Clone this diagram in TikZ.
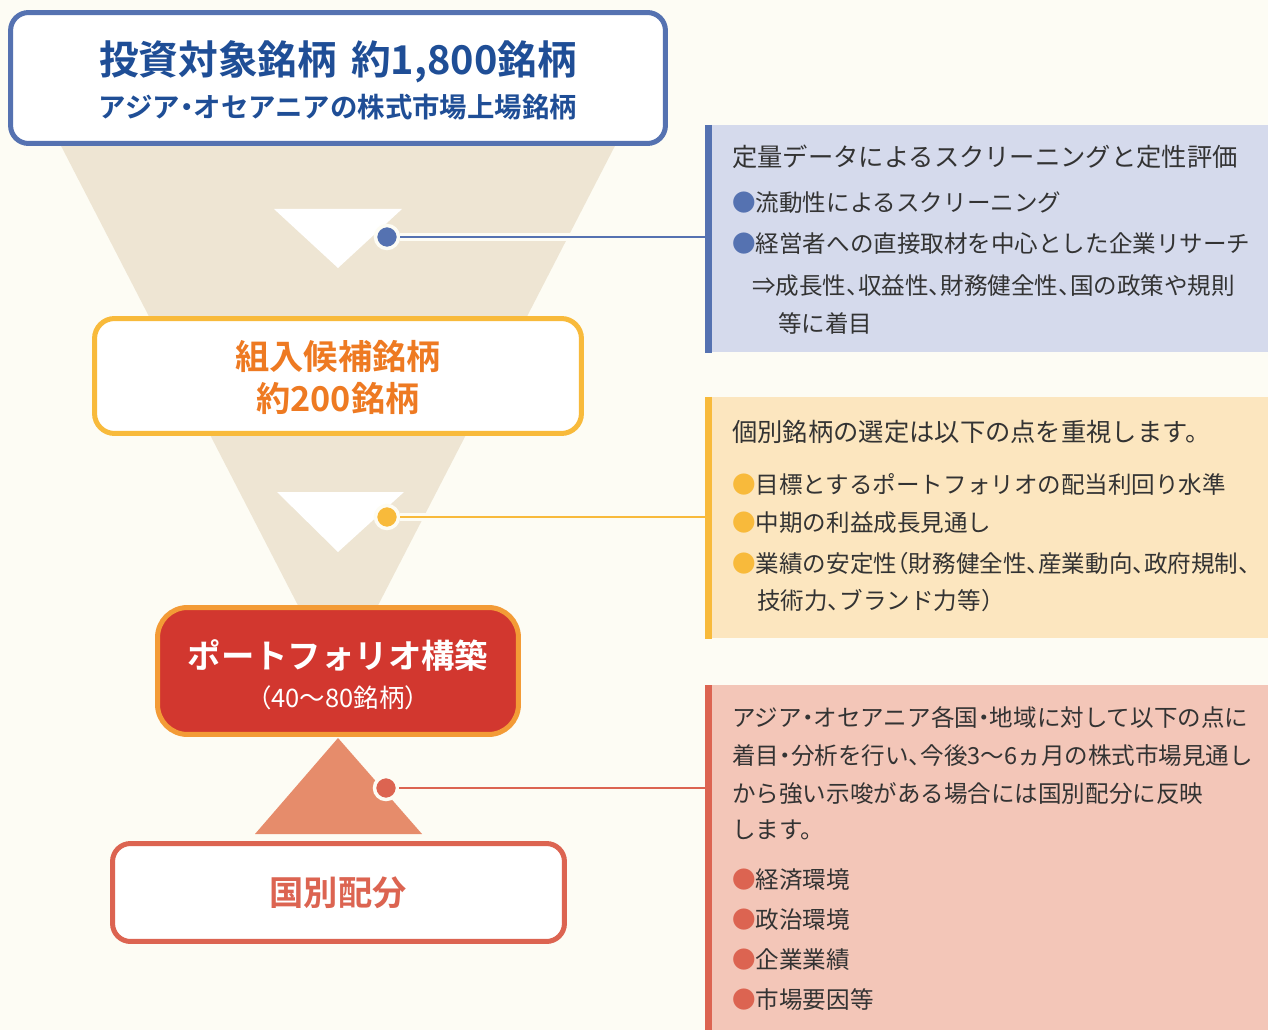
\documentclass[tikz,border=0pt]{standalone}
\usepackage{fontspec}
\setmainfont{Noto Sans CJK JP}[BoldFont={* Bold},RawFeature=+halt]
\usetikzlibrary{calc}

\definecolor{bgcream}{HTML}{FDFCF4}
\definecolor{funnel}{HTML}{EEE5D3}
\definecolor{topblue}{HTML}{5572B1}
\definecolor{titleblue}{HTML}{1F4E96}
\definecolor{candyellow}{HTML}{F8BA3B}
\definecolor{candorange}{HTML}{EE7A22}
\definecolor{portred}{HTML}{D2372F}
\definecolor{portorange}{HTML}{F39B36}
\definecolor{countryred}{HTML}{DC6451}
\definecolor{tripeach}{HTML}{E68C6B}
\definecolor{panelblue}{HTML}{D5DAEC}
\definecolor{panelyellow}{HTML}{FCE6BF}
\definecolor{panelred}{HTML}{F3C6B8}
\definecolor{txtgray}{HTML}{333333}

\tikzset{
  stagebox/.style={draw, line width=0.1cm, fill=white, inner sep=0pt},
  joint/.style={circle, draw=bgcream, line width=0.07cm, inner sep=0pt, minimum size=0.46cm},
  leader/.style={line width=0.055cm, preaction={draw=bgcream, line width=0.16cm}},
  notepanel/.style={inner sep=0pt, minimum width=11.26cm, anchor=north west},
  ptext/.style={anchor=west, inner sep=0pt, text=txtgray, font=\fontsize{13.4}{16}\selectfont},
  ptitle/.style={ptext, font=\fontsize{14.4}{17}\selectfont},
}

\begin{document}
\begin{tikzpicture}[x=0.02cm, y=-0.02cm]
  \fill[bgcream] (0,0) rectangle (1268,1030);
  \useasboundingbox (0,0) rectangle (1268,1030);

  % funnel and arrows
  \fill[funnel] (58,140) -- (618,140) -- (338,683) -- cycle;
  \fill[white] (274,209) -- (402,209) -- (338,268) -- cycle;
  \fill[white] (277,492) -- (404,492) -- (338,552) -- cycle;
  \fill[tripeach] (338,738) -- (422,834) -- (255,834) -- cycle;

  % stages
  \node[stagebox, draw=topblue, minimum width=13.1cm, minimum height=2.62cm, rounded corners=0.36cm] (top) at (338,78) {};
  \node[text=titleblue, font=\fontsize{22.6}{26}\selectfont\bfseries] (toptitle) at (338,62) {投資対象銘柄\hspace{0.35em}約1,800銘柄};
  \node[text=titleblue, font=\fontsize{15.6}{18}\selectfont\bfseries] (topsub) at (338,107) {アジア・オセアニアの株式市場上場銘柄};

  \node[stagebox, draw=candyellow, minimum width=9.74cm, minimum height=2.3cm, rounded corners=0.4cm] (cand) at (338,376) {};
  \node[text=candorange, font=\fontsize{19.5}{23}\selectfont\bfseries] (candtitle) at (338,357) {組入候補銘柄};
  \node[text=candorange, font=\fontsize{19.5}{23}\selectfont\bfseries] (candsub) at (338,398) {約200銘柄};

  \node[stagebox, draw=portorange, fill=portred, minimum width=7.22cm, minimum height=2.54cm, rounded corners=0.6cm] (port) at (338,671) {};
  \node[text=white, font=\fontsize{19}{23}\selectfont\bfseries] (porttitle) at (338,656) {ポートフォリオ構築};
  \node[text=white, font=\fontsize{14.5}{17}\selectfont] (portsub) at (338,698) {（40～80銘柄）};

  \node[stagebox, draw=countryred, minimum width=9.04cm, minimum height=1.96cm, rounded corners=0.36cm] (country) at (338.5,892.5) {};
  \node[text=countryred, font=\fontsize{19.5}{23}\selectfont\bfseries] (countrytitle) at (338,893) {国別配分};

  % side panels
  \node[notepanel, fill=panelblue, minimum height=4.54cm] (p1) at (705,125) {};
  \node[notepanel, fill=panelyellow, minimum height=4.82cm] (p2) at (705,397) {};
  \node[notepanel, fill=panelred, minimum height=6.9cm] (p3) at (705,685) {};

  \node[joint, fill=topblue] (j1) at (387,237) {};
  \node[joint, fill=candyellow] (j2) at (387,517) {};
  \node[joint, fill=countryred] (j3) at (386,788) {};

  \draw[leader, topblue] (j1) -- (j1 -| p1.west);
  \draw[leader, candyellow] (j2) -- (j2 -| p2.west);
  \draw[leader, countryred] (j3) -- (j3 -| p3.west);

  \draw[topblue, line width=0.14cm] ([xshift=0.07cm]p1.north west) -- ([xshift=0.07cm]p1.south west);
  \draw[candyellow, line width=0.14cm] ([xshift=0.07cm]p2.north west) -- ([xshift=0.07cm]p2.south west);
  \draw[countryred, line width=0.14cm] ([xshift=0.07cm]p3.north west) -- ([xshift=0.07cm]p3.south west);

  % panel texts
  \node[ptitle] (p1t) at (732,157) {定量データによるスクリーニングと定性評価};
  \node[ptext] (p1a) at (732,203) {\textcolor{topblue}{●}流動性によるスクリーニング};
  \node[ptext] (p1b) at (732,244) {\textcolor{topblue}{●}経営者への直接取材を中心とした企業リサーチ};
  \node[ptext] (p1c) at (752,286) {⇒成長性、収益性、財務健全性、国の政策や規則};
  \node[ptext] (p1d) at (778,323) {等に着目};

  \node[ptitle] (p2t) at (732,432) {個別銘柄の選定は以下の点を重視します。};
  \node[ptext] (p2a) at (732,484) {\textcolor{candyellow}{●}目標とするポートフォリオの配当利回り水準};
  \node[ptext] (p2b) at (732,523) {\textcolor{candyellow}{●}中期の利益成長見通し};
  \node[ptext] (p2c) at (732,564) {\textcolor{candyellow}{●}業績の安定性（財務健全性、産業動向、政府規制、};
  \node[ptext] (p2d) at (757,601) {技術力、ブランド力等）};

  \node[ptext] (p3a) at (732,718) {アジア・オセアニア各国・地域に対して以下の点に};
  \node[ptext] (p3b) at (732,756) {着目・分析を行い、今後3～6ヵ月の株式市場見通し};
  \node[ptext] (p3c) at (732,794) {から強い示唆がある場合には国別配分に反映};
  \node[ptext] (p3d) at (732,830) {します。};
  \node[ptext] (p3e) at (732,880) {\textcolor{countryred}{●}経済環境};
  \node[ptext] (p3f) at (732,920) {\textcolor{countryred}{●}政治環境};
  \node[ptext] (p3g) at (732,960) {\textcolor{countryred}{●}企業業績};
  \node[ptext] (p3h) at (732,1000) {\textcolor{countryred}{●}市場要因等};
\end{tikzpicture}
\end{document}
